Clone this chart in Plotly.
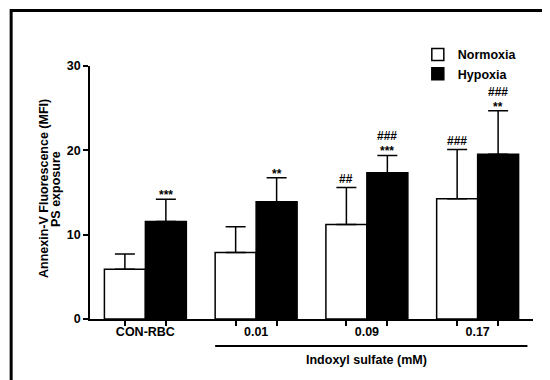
import plotly.graph_objects as go

categories = ["CON-RBC", "0.01", "0.09", "0.17"]
normoxia = [5.9, 7.9, 11.2, 14.25]
normoxia_err = [1.8, 3.05, 4.4, 5.85]
hypoxia = [11.55, 13.9, 17.35, 19.55]
hypoxia_err = [2.65, 2.85, 2.05, 5.15]
normoxia_stars = ["", "", "", ""]
normoxia_hashes = ["", "", "##", "###"]
hypoxia_stars = ["***", "**", "***", "**"]
hypoxia_hashes = ["", "", "###", "###"]
y_ticks = [0, 10, 20, 30]
group_label = "Indoxyl sulfate (mM)"
y_title_lines = ["Annexin-V Fluorescence (MFI)", "PS exposure"]

FONT = "Liberation Sans, Arial, sans-serif"
BARGAP = 0.26
half = (1 - BARGAP) / 4  # center offset of each bar within a group
pos = list(range(len(categories)))

fig = go.Figure()
fig.add_trace(go.Bar(
    x=pos, y=normoxia, name="Normoxia",
    marker=dict(color="white", line=dict(color="black", width=1.5)),
    error_y=dict(type="data", symmetric=False, array=normoxia_err,
                 arrayminus=[0] * len(normoxia), color="black", thickness=1.5, width=10),
))
fig.add_trace(go.Bar(
    x=pos, y=hypoxia, name="Hypoxia",
    marker=dict(color="black", line=dict(color="black", width=1.5)),
    error_y=dict(type="data", symmetric=False, array=hypoxia_err,
                 arrayminus=[0] * len(hypoxia), color="black", thickness=1.5, width=10),
))
# invisible trace to carry the category label axis
fig.add_trace(go.Scatter(x=pos, y=[0] * len(pos), xaxis="x2", mode="markers",
                         marker=dict(opacity=0), showlegend=False, hoverinfo="skip"))

tick_positions = []
for p in pos:
    tick_positions += [p - half, p + half]

mark_font = dict(family=FONT, size=12, color="black", weight="bold")
annotations = []


def add_marks(offset, vals, errs, stars, hashes):
    for p, v, e, s, h in zip(pos, vals, errs, stars, hashes):
        top = v + e
        if s:
            annotations.append(dict(x=p + offset, y=top, xref="x", yref="y", text=s,
                                    showarrow=False, yanchor="middle", yshift=4, font=mark_font))
        if h:
            annotations.append(dict(x=p + offset, y=top, xref="x", yref="y", text=h,
                                    showarrow=False, yanchor="middle",
                                    yshift=19 if s else 8, font=mark_font))


add_marks(-half, normoxia, normoxia_err, normoxia_stars, normoxia_hashes)
add_marks(half, hypoxia, hypoxia_err, hypoxia_stars, hypoxia_hashes)

annotations.append(dict(x=2.0, y=-0.162, xref="x", yref="paper", text=group_label,
                        showarrow=False, yanchor="middle",
                        font=dict(family=FONT, size=12.5, color="black", weight="bold")))
for xp, line in zip([-0.1038, -0.0767], y_title_lines):
    annotations.append(dict(x=xp, y=0.514, xref="paper", yref="paper", text=line,
                            textangle=-90, showarrow=False, xanchor="center", yanchor="middle",
                            font=dict(family=FONT, size=12.5, color="black", weight="bold")))

shapes = [
    dict(type="line", xref="x", yref="paper", x0=1 - 2 * half, x1=3.45, y0=-0.107, y1=-0.107,
         line=dict(color="black", width=2)),
    dict(type="rect", xref="paper", yref="paper", x0=-0.178, x1=1.3, y0=-0.4, y1=1.219,
         line=dict(color="black", width=3), fillcolor="rgba(0,0,0,0)", layer="above"),
]

fig.update_layout(
    width=550, height=380,
    margin=dict(l=81.5, r=25, t=58, b=68.7),
    paper_bgcolor="white", plot_bgcolor="white",
    barmode="group", bargap=BARGAP, bargroupgap=0,
    font=dict(family=FONT, color="black"),
    showlegend=True,
    legend=dict(x=0.74, y=1.103, xanchor="left", yanchor="top",
                font=dict(family=FONT, size=12.5, weight="bold"),
                bgcolor="rgba(0,0,0,0)", itemwidth=30, tracegroupgap=0),
    xaxis=dict(range=[-0.5, 3.5], tickvals=tick_positions, ticktext=[""] * len(tick_positions),
               ticks="outside", ticklen=5, tickwidth=1.5, tickcolor="black",
               showline=True, linecolor="black", linewidth=1.5, showgrid=False, zeroline=False),
    xaxis2=dict(range=[-0.5, 3.5], overlaying="x", anchor="y", side="bottom",
                tickvals=pos, ticktext=categories, ticks="", showline=False,
                showgrid=False, zeroline=False, ticklabelstandoff=3,
                tickfont=dict(family=FONT, size=12.5, weight="bold", color="black")),
    yaxis=dict(range=[0, 30], tickvals=y_ticks, ticks="outside", ticklen=5, tickwidth=1.5,
               tickcolor="black", showline=True, linecolor="black", linewidth=1.5,
               showgrid=False, zeroline=False,
               tickfont=dict(family=FONT, size=12.5, weight="bold", color="black")),
    annotations=annotations,
    shapes=shapes,
)

fig.write_html("out.html")
